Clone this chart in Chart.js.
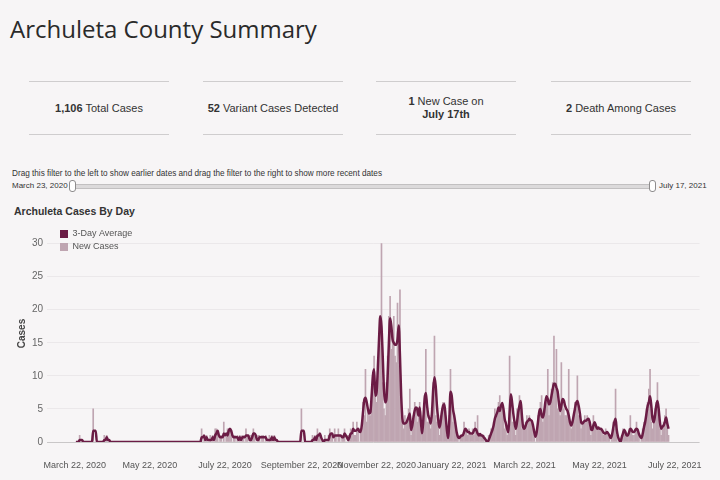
<!DOCTYPE html>
<html>
<head>
<meta charset="utf-8">
<title>Archuleta County Summary</title>
<script src="https://cdn.jsdelivr.net/npm/chart.js@4/dist/chart.umd.min.js"></script>
<style>
html, body { margin: 0; padding: 0; }
body {
  width: 720px; height: 480px; position: relative; overflow: hidden;
  background: #f7f5f6; color: #333;
  font-family: "Liberation Sans", Arial, sans-serif;
}
h1 {
  position: absolute; left: 10px; top: 12px; margin: 0;
  font: 400 24px "Open Sans", sans-serif; color: #2a2a2a; white-space: nowrap;
}
.stat {
  position: absolute; top: 81px; width: 140px; height: 52px;
  border-top: 1.5px solid #cfcdce; border-bottom: 1.5px solid #cfcdce;
  display: flex; align-items: center; justify-content: center;
  text-align: center; font-size: 11px; line-height: 13px; color: #333;
}
.note { position: absolute; left: 12px; top: 169px; font-size: 8.2px; color: #333; white-space: nowrap; }
.sl-label { position: absolute; top: 181px; font-size: 8px; color: #333; white-space: nowrap; }
.track {
  position: absolute; left: 72px; top: 184px; width: 580px; height: 3px;
  background: #dcdadb; border: 1px solid #c2c0c1; border-radius: 2px;
}
.handle {
  position: absolute; top: 180px; width: 5px; height: 10px;
  background: #fff; border: 1px solid #8e8c8d; border-radius: 3px;
}
.ctitle { position: absolute; left: 14px; top: 205px; font-weight: bold; font-size: 10.5px; color: #333; }
#wrap { position: absolute; left: 0; top: 215px; width: 720px; height: 265px; }
</style>
</head>
<body>
<h1>Archuleta County Summary</h1>

<div class="stat" style="left:29px"><span><b>1,106</b> Total Cases</span></div>
<div class="stat" style="left:203px"><span><b>52</b> Variant Cases Detected</span></div>
<div class="stat" style="left:376px"><span><b>1</b> New Case on<br><b>July 17th</b></span></div>
<div class="stat" style="left:551px"><span><b>2</b> Death Among Cases</span></div>

<div class="note">Drag this filter to the left to show earlier dates and drag the filter to the right to show more recent dates</div>
<div class="sl-label" style="left:12px">March 23, 2020</div>
<div class="track"></div>
<div class="handle" style="left:69px"></div>
<div class="handle" style="left:649px"></div>
<div class="sl-label" style="left:659px">July 17, 2021</div>

<div class="ctitle">Archuleta Cases By Day</div>
<div id="wrap"><canvas id="chart" width="720" height="265"></canvas></div>

<script>
// day 1 = March 23, 2020 ... day 482 = July 17, 2021 (x = days after March 22, 2020)
const newCases = [
  0,0,0,1,0,0,0,0,0,0,  0,0,0,0,5,0,0,0,0,0,  0,0,0,1,0,1,0,0,0,0,
  0,0,0,0,0,0,0,0,0,0,  0,0,0,0,0,0,0,0,0,0,  0,0,0,0,0,0,0,0,0,0,
  0,0,0,0,0,0,0,0,0,0,  0,0,0,0,0,0,0,0,0,0,  0,0,0,0,0,0,0,0,0,0,
  0,0,0,0,0,0,0,0,0,0,
  0,0,2,0,1,0,1,0,0,1,  0,1,0,2,2,1,0,1,1,0,  3,0,1,2,2,2,1,0,1,1,
  0,1,0,1,0,1,1,0,2,1,  0,0,1,1,2,1,0,0,1,1,  0,1,1,0,1,0,0,1,0,1,
  0,1,0,0,0,0,0,0,0,0,  0,0,0,0,0,0,0,0,0,0,  0,0,0,5,0,0,0,0,0,0,
  0,0,1,0,1,0,2,1,1,0,  0,0,1,0,0,1,2,1,1,0,  2,1,0,2,1,0,1,1,2,0,
  0,1,1,2,1,3,1,1,3,2,  0,2,3,6,4,11,3,5,4,4, 6,9,13,8,6,10,16,19,30,9,
  5,4,9,13,19,22,14,16,19,13,  12,21,16,23,4,3,2,4,3,3,  5,8,1,2,4,6,5,3,4,6,
  2,1,4,7,14,3,3,4,2,5,  9,16,4,3,3,1,4,5,6,6,  3,1,1,4,11,7,3,4,2,1,
  1,0,1,1,1,3,2,2,1,2,  1,1,2,1,3,2,4,1,1,1,  1,1,0,0,0,1,1,2,2,3,
  5,4,4,6,7,5,6,4,2,3,  1,2,13,7,3,3,2,1,5,4,  7,6,2,2,2,3,4,3,4,3,
  3,2,1,0,2,4,5,6,7,3,  5,6,7,11,4,6,8,9,16,8,  14,5,6,4,12,6,5,4,4,5,
  11,3,2,3,4,6,5,10,4,3,  2,3,3,4,3,4,3,2,1,2,  4,3,2,2,2,2,2,2,1,1,
  2,1,1,1,0,1,3,2,8,1,  0,0,0,1,2,2,1,1,1,2,  4,2,1,1,2,3,2,1,0,1,
  2,3,3,5,6,8,11,3,2,4,  5,6,9,4,2,1,2,3,4,5,  2,1
];

const threeDayAvg = [
  0,0,0,0.3,0.3,0.3,0,0,0,0,  0,0,0,0,1.7,1.7,1.7,0,0,0,  0,0,0,0.3,0.3,0.7,0.3,0.3,0,0,
  0,0,0,0,0,0,0,0,0,0,  0,0,0,0,0,0,0,0,0,0,  0,0,0,0,0,0,0,0,0,0,
  0,0,0,0,0,0,0,0,0,0,  0,0,0,0,0,0,0,0,0,0,  0,0,0,0,0,0,0,0,0,0,
  0,0,0,0,0,0,0,0,0,0,
  0,0,0.7,0.7,1,0.3,0.7,0.3,0.3,0.3,  0.3,0.7,0.3,1,1.3,1.7,1,0.7,0.7,0.7,
  1.3,1,1.3,1,1.7,2,1.7,1,0.7,0.7,  0.7,0.7,0.3,0.7,0.3,0.7,0.7,0.7,1,1,
  1,0.3,0.3,0.7,1.3,1.3,1,0.3,0.3,0.7,  0.7,0.7,0.7,0.7,0.7,0.3,0.3,0.3,0.3,0.7,
  0.3,0.7,0.3,0.3,0,0,0,0,0,0,  0,0,0,0,0,0,0,0,0,0,  0,0,0,1.7,1.7,1.7,0,0,0,0,
  0,0,0.3,0.3,0.7,0.3,1,1,1.3,0.7,  0.3,0,0.3,0.3,0.3,0.3,1,1.3,1.3,0.7,
  1,1,1,1,1,1,0.7,0.7,1.3,1,  0.7,0.3,0.7,1.3,1.3,2,1.7,1.7,1.8,2,
  1.6,1.5,2.5,4.5,6.3,6.7,6,5,4.3,4.5,  7,10,11,7,7.5,11,15.5,19,17.5,13,
  8,6,6.5,10,15,18.7,17.5,15.5,15,14.7,  14.7,15.5,17.6,13,7,3.5,2.8,2.8,2.9,3.3,
  3.8,4.3,1.8,2.5,3.8,4.8,5.2,5,4,5.2,  3,1.3,3.5,6.5,7.4,5.5,4,3.5,2.8,4.5,
  8,9.8,8.5,5.5,3.5,2.2,3,4.5,5.5,5.7,  4,2,0.6,3,7.6,7,5,4,2.8,1.5,
  0.8,0.6,0.8,1,1,1.5,2,1.8,1.5,1.5,  1.3,1.3,1.3,1.7,2,1.8,1.3,1,1.2,1,
  1,0.7,0.5,0.2,0,0.3,0.8,1.3,1.8,2.5,  3.5,4,4.5,5.2,4.7,5.5,5.9,5,3.5,2.8,
  2,1.5,4.5,7.2,6,4.3,3,2,3,4.5,  5.5,6.2,4,2.2,2,2.5,3,3.2,3.5,3.3,
  3.2,2.5,1.5,0.8,1.5,3,4.5,5,4,3.7,  4.5,6,6.9,6.5,5.7,6,7,8,8.8,8.8,
  8.2,7.6,6,4.7,5.5,6.5,6.3,5.5,5,4.7,  4,3,2.5,3,4,5,5.9,6.2,5.5,4.4,
  3,2.8,3,3.2,3.2,3.4,3.5,3,2,1.8,  2.5,3,2.5,2,2.2,2,2,1.8,1.5,1.3,
  1.3,1.5,1.3,1,0.6,1,2,3,3.5,1.8,  0.8,0.3,0,0.7,1.3,1.8,1.5,1,1,1.5,
  2,1.8,1.5,1.5,1.8,2,1.8,1.2,0.8,0.6,  1.2,2.2,3,4.2,5.4,6,6.9,5.5,3.5,3,
  4,5.5,6.2,5,3,2,2.3,2.5,3,3.7,  2.8,2
];

// x tick positions (days after March 22, 2020) and their labels
const tickDays = [0, 61, 122, 184, 245, 306, 365, 426, 487];
const tickLabels = ['March 22, 2020', 'May 22, 2020', 'July 22, 2020', 'September 22, 2020',
  'November 22, 2020', 'January 22, 2021', 'March 22, 2021', 'May 22, 2021', 'July 22, 2021'];

const LINE = '#6b1c45';
const BAR = '#bfa5b1';

Chart.defaults.font.family = '"Liberation Sans", Arial, sans-serif';
Chart.defaults.color = '#555';

// the legend sits inside the plot, a little in from the corner
const legendNudge = {
  id: 'legendNudge',
  afterLayout(chart){
    if (!chart.legend) return;
    chart.legend.left += 9;
    chart.legend.top += 10.5;
  }
};

new Chart(document.getElementById('chart'), {
  type: 'bar',
  data: {
    datasets: [
      {
        type: 'line',
        label: '3-Day Average',
        data: threeDayAvg.map((v, i) => ({ x: i + 1, y: v })),
        borderColor: LINE,
        backgroundColor: LINE,
        borderWidth: 2.5,
        pointRadius: 0,
        cubicInterpolationMode: 'monotone',
        fill: false
      },
      {
        label: 'New Cases',
        data: newCases.map((v, i) => ({ x: i + 1, y: v })),
        backgroundColor: BAR,
        borderWidth: 0,
        barThickness: 1
      }
    ]
  },
  options: {
    responsive: false,
    animation: false,
    devicePixelRatio: 1,
    events: [],
    layout: { padding: { left: 12, right: 14, top: 4, bottom: 0 } },
    plugins: {
      tooltip: { enabled: false },
      legend: {
        position: 'chartArea',
        align: 'start',
        labels: {
          boxWidth: 8,
          boxHeight: 8,
          padding: 4,
          color: '#555',
          font: { size: 9 },
          generateLabels: (chart) => Chart.defaults.plugins.legend.labels.generateLabels(chart)
            .map(l => ({ ...l, lineWidth: 0 }))
        }
      }
    },
    scales: {
      x: {
        type: 'linear',
        min: -22.5,
        max: 507.2,
        offset: false,
        grid: { display: false, drawTicks: false },
        border: { display: false },
        afterBuildTicks: (axis) => { axis.ticks = tickDays.map(v => ({ value: v })); },
        afterFit: (axis) => { axis.height = 38; },
        ticks: {
          autoSkip: false,
          maxRotation: 0,
          padding: 18,
          font: { size: 9 },
          color: '#555',
          callback: (v) => {
            const i = tickDays.indexOf(v);
            return i >= 0 ? tickLabels[i] : '';
          }
        }
      },
      y: {
        min: 0,
        max: 32.8,
        grid: {
          drawTicks: false,
          color: (c) => (c.tick && c.tick.value === 0) ? '#c9c7c8' : '#ebe8ea',
          lineWidth: 1
        },
        border: { display: false },
        afterFit: (axis) => { axis.width = 35; },
        title: {
          display: true,
          text: 'Cases',
          color: '#444',
          font: { size: 10, weight: 'bold' },
          padding: { top: 4, bottom: 0 }
        },
        ticks: {
          stepSize: 5,
          includeBounds: false,
          padding: 4,
          font: { size: 10 },
          color: '#666'
        }
      }
    }
  },
  plugins: [legendNudge]
});
</script>
</body>
</html>
